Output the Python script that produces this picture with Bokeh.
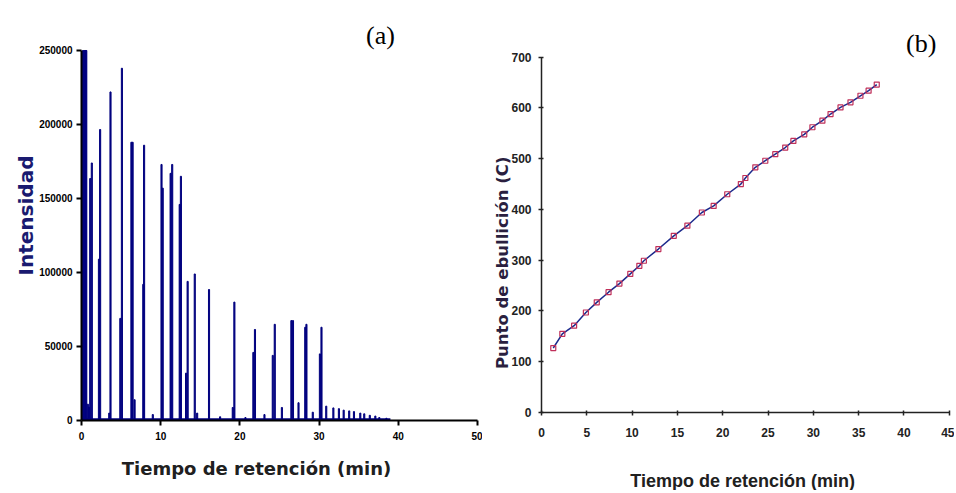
from bokeh.plotting import figure
from bokeh.layouts import row
from bokeh.models import Range1d, FixedTicker, Label, BasicTickFormatter
from bokeh.embed import file_html
from bokeh.resources import INLINE

# ---------------- (a) chromatogram data ----------------
peak_time = [0.2, 0.35, 0.5, 0.6, 0.8, 0.95, 1.1, 1.3, 2.2, 2.35, 3.5, 3.66,
             4.9, 5.1, 6.3, 6.45, 6.7, 7.8, 7.9, 9.0, 10.1, 10.25, 11.25, 11.45,
             12.4, 12.55, 13.2, 13.4, 14.3, 14.6, 16.1, 17.5, 19.1, 19.3, 20.7,
             21.7, 21.9, 23.1, 24.15, 24.4, 25.3, 26.5, 26.7, 27.4, 28.25, 28.4,
             29.2, 30.1, 30.3, 30.9, 31.8, 32.5, 33.1, 33.8, 34.4, 35.2, 35.7,
             36.4, 37.1, 37.6, 38.5]
peak_height = [250000, 250000, 250000, 250000, 11000, 9000, 163500, 174000, 109000, 196600, 5000, 222000,
               69000, 238000, 188000, 188000, 14000, 92000, 186000, 4000, 173000, 157000, 167000, 173000,
               146000, 165000, 32000, 94000, 99000, 5000, 88500, 2500, 8800, 80000, 2000,
               46000, 61500, 4000, 44000, 65000, 8800, 67500, 67500, 12000, 63000, 65000,
               5600, 45000, 63000, 9700, 8500, 8000, 7000, 6500, 6000, 5000, 4500,
               3500, 3000, 2000, 1500]
baseline_time = [0.0, 39.0]
baseline_level = [900, 900]
a_xticks = [0, 10, 20, 30, 40, 50]
a_yticks = [0, 50000, 100000, 150000, 200000, 250000]

# ---------------- (b) boiling point data ----------------
ret_time = [1.3, 2.3, 3.6, 4.9, 6.1, 7.4, 8.6, 9.8, 10.8, 11.3, 12.9, 14.6, 16.1, 17.7,
            19.0, 20.5, 22.0, 22.5, 23.6, 24.7, 25.8, 26.9, 27.8, 29.0, 29.9, 31.0, 31.9,
            33.0, 34.1, 35.2, 36.1, 37.0]
boil_pt = [127, 155, 171, 197, 217, 237, 254, 273, 289, 299, 322, 348, 368, 394,
           407, 430, 450, 462, 483, 496, 509, 522, 535, 548, 562, 575, 588,
           601, 611, 624, 634, 646]
b_xticks = [0, 5, 10, 15, 20, 25, 30, 35, 40, 45]
b_yticks = [0, 100, 200, 300, 400, 500, 600, 700]

NAVY = "#00007f"
SANS = "Liberation Sans"
WIDE = "DejaVu Sans"
H = 490

# ---------------- figure (a) ----------------
# frame covers whole canvas; axes are placed at data 0 with fixed_location
p1 = figure(width=482, height=H, output_backend="svg", toolbar_location=None,
            x_range=Range1d(-10.23, 50.63), y_range=Range1d(-47300, 283784),
            min_border=0)
p1.outline_line_color = None
p1.grid.grid_line_color = None

p1.line(baseline_time, baseline_level, line_color=NAVY, line_width=2)
p1.vbar(x=peak_time, top=peak_height, bottom=0, width=0.14,
        fill_color=NAVY, line_color=NAVY, line_width=1)

for ax in (p1.xaxis[0], p1.yaxis[0]):
    ax.fixed_location = 0
    ax.axis_line_color = "black"
    ax.axis_line_width = 2
    ax.major_tick_line_color = "black"
    ax.major_tick_line_width = 2
    ax.major_tick_in = 0
    ax.major_tick_out = 5
    ax.minor_tick_line_color = None
    ax.major_label_text_font = SANS
    ax.major_label_text_font_style = "bold"
    ax.major_label_text_font_size = "10px"
    ax.major_label_text_color = "black"
p1.xaxis[0].bounds = (0, 50)
p1.yaxis[0].bounds = (0, 250000)
p1.xaxis[0].ticker = FixedTicker(ticks=a_xticks)
p1.yaxis[0].ticker = FixedTicker(ticks=a_yticks)
p1.yaxis[0].formatter = BasicTickFormatter(use_scientific=False)
p1.xaxis[0].major_label_standoff = 7
p1.yaxis[0].major_label_standoff = 4

p1.add_layout(Label(x=37.75, y=260100, text="(a)", text_font="Liberation Serif",
                    text_font_size="26px", text_align="center", text_baseline="middle",
                    text_color="black"))
p1.add_layout(Label(x=22.1, y=-32400, text="Tiempo de retención (min)", text_font=WIDE,
                    text_font_style="bold", text_font_size="18px", text_align="center",
                    text_baseline="middle", text_color="#202020"))
p1.add_layout(Label(x=-7.07, y=138500, text="Intensidad", text_font=WIDE,
                    text_font_style="bold", text_font_size="20px", text_align="center",
                    text_baseline="middle", angle=1.5708, text_color="#1a1a70"))

# ---------------- figure (b) ----------------
p2 = figure(width=472, height=H, output_backend="svg", toolbar_location=None,
            x_range=Range1d(-6.51, 45.58), y_range=Range1d(-153.7, 811.7),
            min_border=0)
p2.outline_line_color = None
p2.grid.grid_line_color = None

p2.line(ret_time, boil_pt, line_color="#1c2a8c", line_width=1.5)
p2.scatter(ret_time, boil_pt, marker="square", size=5, fill_color=None,
           line_color="#c0305a", line_width=1.2)

for ax in (p2.xaxis[0], p2.yaxis[0]):
    ax.fixed_location = 0
    ax.axis_line_color = "#222222"
    ax.axis_line_width = 1.5
    ax.major_tick_line_color = "#222222"
    ax.major_tick_line_width = 1.5
    ax.major_tick_in = 2
    ax.major_tick_out = 3
    ax.minor_tick_line_color = None
    ax.major_label_text_font = SANS
    ax.major_label_text_font_style = "bold"
    ax.major_label_text_font_size = "12px"
    ax.major_label_text_color = "#222222"
p2.xaxis[0].bounds = (0, 45)
p2.yaxis[0].bounds = (0, 700)
p2.xaxis[0].ticker = FixedTicker(ticks=b_xticks)
p2.yaxis[0].ticker = FixedTicker(ticks=b_yticks)
p2.xaxis[0].major_label_standoff = 13
p2.yaxis[0].major_label_standoff = 7

p2.add_layout(Label(x=41.9, y=727, text="(b)", text_font="Liberation Serif",
                    text_font_size="26px", text_align="center", text_baseline="middle",
                    text_color="black"))
p2.add_layout(Label(x=22.2, y=-134, text="Tiempo de retención (min)", text_font=SANS,
                    text_font_style="bold", text_font_size="18px", text_align="center",
                    text_baseline="middle", text_color="#202020"))
p2.add_layout(Label(x=-4.35, y=295, text="Punto de ebullición (C)", text_font=WIDE,
                    text_font_style="bold", text_font_size="16.5px", text_align="center",
                    text_baseline="middle", angle=1.5708, text_color="#2a1f3f"))

layout = row(p1, p2)
open("out.html", "w").write(file_html(layout, INLINE))
